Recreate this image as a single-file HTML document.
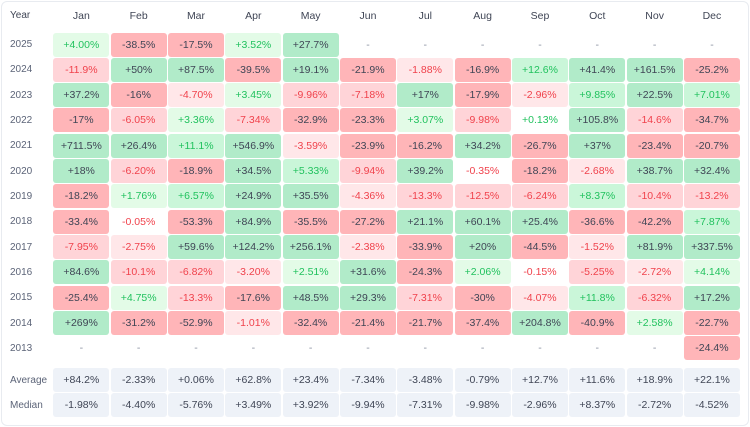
<!DOCTYPE html>
<html><head><meta charset="utf-8"><style>
*{margin:0;padding:0;box-sizing:border-box}
body{width:750px;height:427px;background:#fff;font-family:"Liberation Sans",sans-serif;overflow:hidden;position:relative}
.card{position:absolute;left:1px;top:1px;width:748px;height:425px;border:1px solid #e8ebf0;border-radius:6px}
.g{position:absolute;left:0px;display:grid;grid-template-columns:52px repeat(12,56px);column-gap:1.33px;row-gap:1.33px;grid-auto-rows:24px;font-size:10.5px}
.g div{display:flex;align-items:center;justify-content:center;border-radius:3px;color:#3f4555}
.g .l{justify-content:flex-start;padding-left:10px;color:#5c6478;background:none;font-size:10px}
.h{color:#3f4555!important}
.g3{background:#b1ebc9}.g2{background:#caf6d9;color:#21c25e!important}.g1{background:#e3fbe7;color:#21c25e!important}
.r3{background:#ffb5b8}.r2{background:#ffd4d8;color:#f0424c!important}.r1{background:#ffe7e9;color:#f0424c!important}
.w{color:#f0424c!important}.n{color:#8a90a0!important}
.s{background:#eef2f8}
</style></head><body><div class="card"></div>
<div class="g" style="top:3px;grid-auto-rows:25px"><div class="l h">Year</div><div class="h">Jan</div><div class="h">Feb</div><div class="h">Mar</div><div class="h">Apr</div><div class="h">May</div><div class="h">Jun</div><div class="h">Jul</div><div class="h">Aug</div><div class="h">Sep</div><div class="h">Oct</div><div class="h">Nov</div><div class="h">Dec</div></div>
<div class="g" style="top:32.5px">
<div class="l">2025</div><div class="g1">+4.00%</div><div class="r3">-38.5%</div><div class="r3">-17.5%</div><div class="g1">+3.52%</div><div class="g3">+27.7%</div><div class="n">-</div><div class="n">-</div><div class="n">-</div><div class="n">-</div><div class="n">-</div><div class="n">-</div><div class="n">-</div>
<div class="l">2024</div><div class="r2">-11.9%</div><div class="g3">+50%</div><div class="g3">+87.5%</div><div class="r3">-39.5%</div><div class="g3">+19.1%</div><div class="r3">-21.9%</div><div class="r1">-1.88%</div><div class="r3">-16.9%</div><div class="g2">+12.6%</div><div class="g3">+41.4%</div><div class="g3">+161.5%</div><div class="r3">-25.2%</div>
<div class="l">2023</div><div class="g3">+37.2%</div><div class="r3">-16%</div><div class="r1">-4.70%</div><div class="g1">+3.45%</div><div class="r2">-9.96%</div><div class="r2">-7.18%</div><div class="g3">+17%</div><div class="r3">-17.9%</div><div class="r1">-2.96%</div><div class="g2">+9.85%</div><div class="g3">+22.5%</div><div class="g2">+7.01%</div>
<div class="l">2022</div><div class="r3">-17%</div><div class="r2">-6.05%</div><div class="g1">+3.36%</div><div class="r2">-7.34%</div><div class="r3">-32.9%</div><div class="r3">-23.3%</div><div class="g1">+3.07%</div><div class="r2">-9.98%</div><div class="g1" style="background:#fff">+0.13%</div><div class="g3">+105.8%</div><div class="r2">-14.6%</div><div class="r3">-34.7%</div>
<div class="l">2021</div><div class="g3">+711.5%</div><div class="g3">+26.4%</div><div class="g2">+11.1%</div><div class="g3">+546.9%</div><div class="r1">-3.59%</div><div class="r3">-23.9%</div><div class="r3">-16.2%</div><div class="g3">+34.2%</div><div class="r3">-26.7%</div><div class="g3">+37%</div><div class="r3">-23.4%</div><div class="r3">-20.7%</div>
<div class="l">2020</div><div class="g3">+18%</div><div class="r2">-6.20%</div><div class="r3">-18.9%</div><div class="g3">+34.5%</div><div class="g2">+5.33%</div><div class="r2">-9.94%</div><div class="g3">+39.2%</div><div class="w">-0.35%</div><div class="r3">-18.2%</div><div class="r1">-2.68%</div><div class="g3">+38.7%</div><div class="g3">+32.4%</div>
<div class="l">2019</div><div class="r3">-18.2%</div><div class="g1">+1.76%</div><div class="g2">+6.57%</div><div class="g3">+24.9%</div><div class="g3">+35.5%</div><div class="r1">-4.36%</div><div class="r2">-13.3%</div><div class="r2">-12.5%</div><div class="r2">-6.24%</div><div class="g2">+8.37%</div><div class="r2">-10.4%</div><div class="r2">-13.2%</div>
<div class="l">2018</div><div class="r3">-33.4%</div><div class="w">-0.05%</div><div class="r3">-53.3%</div><div class="g3">+84.9%</div><div class="r3">-35.5%</div><div class="r3">-27.2%</div><div class="g3">+21.1%</div><div class="g3">+60.1%</div><div class="g3">+25.4%</div><div class="r3">-36.6%</div><div class="r3">-42.2%</div><div class="g2">+7.87%</div>
<div class="l">2017</div><div class="r2">-7.95%</div><div class="r1">-2.75%</div><div class="g3">+59.6%</div><div class="g3">+124.2%</div><div class="g3">+256.1%</div><div class="r1">-2.38%</div><div class="r3">-33.9%</div><div class="g3">+20%</div><div class="r3">-44.5%</div><div class="r1">-1.52%</div><div class="g3">+81.9%</div><div class="g3">+337.5%</div>
<div class="l">2016</div><div class="g3">+84.6%</div><div class="r2">-10.1%</div><div class="r2">-6.82%</div><div class="r1">-3.20%</div><div class="g1">+2.51%</div><div class="g3">+31.6%</div><div class="r3">-24.3%</div><div class="g1">+2.06%</div><div class="w">-0.15%</div><div class="r2">-5.25%</div><div class="r1">-2.72%</div><div class="g1">+4.14%</div>
<div class="l">2015</div><div class="r3">-25.4%</div><div class="g1">+4.75%</div><div class="r2">-13.3%</div><div class="r3">-17.6%</div><div class="g3">+48.5%</div><div class="g3">+29.3%</div><div class="r2">-7.31%</div><div class="r3">-30%</div><div class="r1">-4.07%</div><div class="g2">+11.8%</div><div class="r2">-6.32%</div><div class="g3">+17.2%</div>
<div class="l">2014</div><div class="g3">+269%</div><div class="r3">-31.2%</div><div class="r3">-52.9%</div><div class="r1">-1.01%</div><div class="r3">-32.4%</div><div class="r3">-21.4%</div><div class="r3">-21.7%</div><div class="r3">-37.4%</div><div class="g3">+204.8%</div><div class="r3">-40.9%</div><div class="g1">+2.58%</div><div class="r3">-22.7%</div>
<div class="l">2013</div><div class="n">-</div><div class="n">-</div><div class="n">-</div><div class="n">-</div><div class="n">-</div><div class="n">-</div><div class="n">-</div><div class="n">-</div><div class="n">-</div><div class="n">-</div><div class="n">-</div><div class="r3">-24.4%</div>
</div>
<div class="g" style="top:368px">
<div class="l">Average</div><div class="s">+84.2%</div><div class="s">-2.33%</div><div class="s">+0.06%</div><div class="s">+62.8%</div><div class="s">+23.4%</div><div class="s">-7.34%</div><div class="s">-3.48%</div><div class="s">-0.79%</div><div class="s">+12.7%</div><div class="s">+11.6%</div><div class="s">+18.9%</div><div class="s">+22.1%</div>
<div class="l">Median</div><div class="s">-1.98%</div><div class="s">-4.40%</div><div class="s">-5.76%</div><div class="s">+3.49%</div><div class="s">+3.92%</div><div class="s">-9.94%</div><div class="s">-7.31%</div><div class="s">-9.98%</div><div class="s">-2.96%</div><div class="s">+8.37%</div><div class="s">-2.72%</div><div class="s">-4.52%</div>
</div>
</body></html>
